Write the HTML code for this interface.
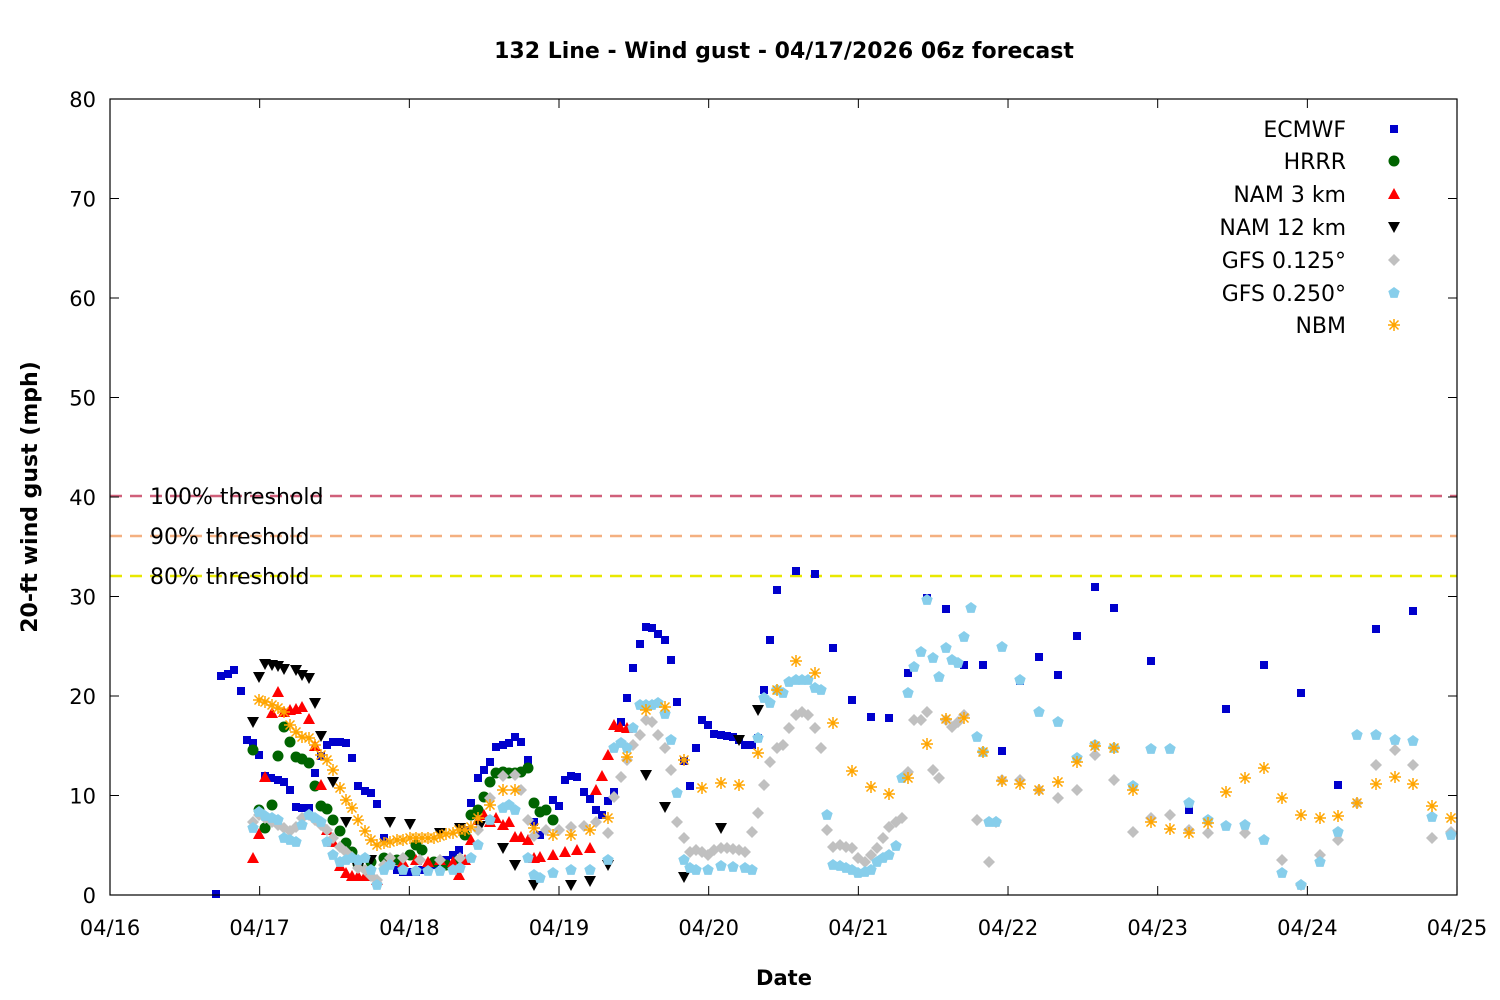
<!DOCTYPE html>
<html><head><meta charset="utf-8">
<style>
html,body{margin:0;padding:0;background:#fff;}
svg{display:block;font-family:"DejaVu Sans","Liberation Sans",sans-serif;}
</style></head>
<body>
<svg id="c" width="1500" height="1000" xmlns="http://www.w3.org/2000/svg">
<rect width="1500" height="1000" fill="#fff"/>
<text x="784" y="58" text-anchor="middle" font-size="22" font-weight="bold">132 Line - Wind gust - 04/17/2026 06z forecast</text>
<g id="thr">
<line x1="110" y1="496" x2="1457" y2="496" stroke="#d0607a" stroke-width="2.5" stroke-dasharray="12,8"/>
<line x1="110" y1="536" x2="1457" y2="536" stroke="#f4b080" stroke-width="2.5" stroke-dasharray="12,8"/>
<line x1="110" y1="576" x2="1457" y2="576" stroke="#e8e800" stroke-width="2.5" stroke-dasharray="12,8"/>
</g>
<g font-size="22">
<text x="150" y="504">100% threshold</text>
<text x="150" y="544">90% threshold</text>
<text x="150" y="584">80% threshold</text>
</g>
<g id="pts"></g>
<rect x="110" y="99" width="1347" height="796" fill="none" stroke="#000" stroke-width="1.2"/>
<g id="axes" font-size="21"></g>
<text transform="translate(37,497) rotate(-90)" text-anchor="middle" font-size="22" font-weight="bold">20-ft wind gust (mph)</text>
<text x="784" y="985" text-anchor="middle" font-size="21" font-weight="bold">Date</text>
<g font-size="22" text-anchor="end">
<text x="1346" y="137">ECMWF</text>
<text x="1346" y="169">HRRR</text>
<text x="1346" y="202">NAM 3 km</text>
<text x="1346" y="235">NAM 12 km</text>
<text x="1346" y="268">GFS 0.125°</text>
<text x="1346" y="301">GFS 0.250°</text>
<text x="1346" y="333">NBM</text>
</g>
<g id="leg"></g>
</svg>
<script>
var NS="http://www.w3.org/2000/svg";
function el(t,a,p){var e=document.createElementNS(NS,t);for(var k in a)e.setAttribute(k,a[k]);(p||document.getElementById('pts')).appendChild(e);return e;}
var ax=document.getElementById('axes');
for(var i=0;i<=8;i++){var y=895-i*99.5;
 el('line',{x1:110,y1:y,x2:119,y2:y,stroke:'#000'},ax);el('line',{x1:1448,y1:y,x2:1457,y2:y,stroke:'#000'},ax);
 var t=el('text',{x:96,y:y+8,'text-anchor':'end'},ax);t.textContent=i*10;}
for(var i=0;i<=9;i++){var x=110+i*149.67;
 el('line',{x1:x,y1:895,x2:x,y2:886,stroke:'#000'},ax);el('line',{x1:x,y1:99,x2:x,y2:108,stroke:'#000'},ax);
 var t=el('text',{x:x,y:935,'text-anchor':'middle'},ax);t.textContent='04/'+(16+i);}
function mk(type,x,y,p){
 switch(type){
 case 'sq':el('rect',{x:x-4,y:y-4,width:8,height:8,fill:'#0000cc'},p);break;
 case 'ci':el('circle',{cx:x,cy:y,r:5.5,fill:'#006400'},p);break;
 case 'tu':el('polygon',{points:(x-6)+','+(y+5)+' '+(x+6)+','+(y+5)+' '+x+','+(y-6),fill:'#ff0000'},p);break;
 case 'td':el('polygon',{points:(x-6)+','+(y-5)+' '+(x+6)+','+(y-5)+' '+x+','+(y+6),fill:'#000'},p);break;
 case 'di':el('polygon',{points:x+','+(y-6)+' '+(x+6)+','+y+' '+x+','+(y+6)+' '+(x-6)+','+y,fill:'#c0c0c0'},p);break;
 case 'pe':var s='';for(var k=0;k<5;k++){var a=-Math.PI/2+k*2*Math.PI/5;s+=(x+6*Math.cos(a))+','+(y+6*Math.sin(a))+' ';}el('polygon',{points:s,fill:'#87ceeb'},p);break;
 case 'as':var d='M'+(x-6)+' '+y+'H'+(x+6)+'M'+x+' '+(y-6)+'V'+(y+6)+'M'+(x-4.5)+' '+(y-4.5)+'L'+(x+4.5)+' '+(y+4.5)+'M'+(x-4.5)+' '+(y+4.5)+'L'+(x+4.5)+' '+(y-4.5);el('path',{d:d,stroke:'#ffa500','stroke-width':1.5,fill:'none'},p);break;
 }}
function S(type,str){var a=str.trim().split(/\s*;\s*/);a.forEach(function(q){if(!q)return;var v=q.split(',');mk(type,+v[0],+v[1]);});}
S('sq',"216,894;221,676;228,674;234,670;241,691;247,740;253,743;259,755;265,776;271,778;278,780;284,782;290,790;296,807;302,808;309,808;315,773;321,756;327,745;333,742;340,742;346,743;352,758;358,786;365,791;371,793;377,804;384,838;390,862;397,870;403,872;410,872;416,872;422,870;428,868;434,865;440,862;446,860;453,855;459,850;465,830;471,803;478,778;484,770;490,762;496,747;503,745;509,743;515,737;521,742;528,760;534,822;540,835;546,810;553,800;559,806;565,780;571,776;577,777;584,792;590,799;596,810;602,815;608,801;614,792;621,722;627,698;633,668;640,644;646,627;652,628;658,634;665,640;671,660;677,702;684,761;690,786;696,748;702,720;708,725;714,734;721,735;727,736;733,737;739,740;745,745;752,745;758,738;764,690;770,640;777,590;796,571;815,574;833,648;852,700;871,717;889,718;908,673;927,598;946,609;964,665;983,665;1002,751;1020,681;1039,657;1058,675;1077,636;1095,587;1114,608;1151,661;1189,810;1226,709;1264,665;1301,693;1338,785;1376,629;1413,611");
S('ci',"253,750;259,810;265,828;272,805;278,756;284,727;290,742;296,757;302,759;309,763;315,786;321,806;327,809;333,820;340,831;346,843;352,852;358,864;371,862;384,858;397,860;410,855;416,845;422,850;434,862;446,865;459,860;465,835;471,815;478,810;484,797;490,782;496,773;503,772;509,773;515,773;521,772;528,768;534,803;540,812;546,810;553,820");
S('tu',"253,858;259,834;265,777;272,713;278,692;284,712;290,710;296,709;302,707;309,719;315,746;321,785;327,830;333,842;340,866;346,873;352,876;358,876;365,876;371,874;377,880;390,860;403,862;416,860;428,862;440,860;453,862;459,875;465,860;471,840;478,820;484,815;490,822;496,818;503,825;509,822;515,837;521,837;528,840;534,858;540,857;553,855;565,852;577,850;590,848;596,790;602,776;608,755;614,725;620,727;627,728");
S('td',"253,722;259,677;265,664;272,665;278,666;284,669;296,670;302,675;309,678;315,703;321,736;333,782;346,822;358,868;371,860;390,822;410,824;440,833;460,828;480,826;503,848;515,865;534,885;571,885;590,881;608,865;646,775;665,807;684,877;721,828;739,740;758,710");
S('di',"253,822;259,815;265,818;272,822;278,825;284,828;290,831;296,827;302,818;309,815;315,820;321,825;327,830;333,838;340,847;346,852;352,857;358,868;365,870;371,876;377,880;384,865;390,858;403,858;420,860;440,860;460,858;478,830;490,798;503,776;515,775;521,790;528,820;534,836;546,830;559,830;571,827;584,826;596,822;608,833;614,797;621,777;627,760;633,745;640,735;646,720;652,722;658,735;665,748;671,770;677,822;684,838;690,852;696,850;702,852;708,855;714,850;721,848;727,848;733,849;739,850;745,852;752,832;758,813;764,785;770,762;777,748;783,745;789,728;796,715;802,712;808,715;815,728;821,748;827,830;833,847;840,845;846,847;852,848;858,858;865,862;871,855;877,848;883,838;889,827;896,822;902,818;908,772;914,720;921,720;927,712;933,770;939,778;946,720;952,727;958,722;964,715;977,820;989,862;996,822;1002,780;1020,780;1039,790;1058,798;1077,790;1095,755;1114,780;1133,832;1151,818;1170,815;1189,830;1208,833;1245,833;1282,860;1301,885;1320,855;1338,840;1357,803;1376,765;1395,750;1413,765;1432,838;1451,832");
S('pe',"253,828;259,812;265,816;272,818;278,820;284,838;290,840;296,842;302,825;309,815;315,818;321,822;327,842;333,855;340,862;346,860;352,858;358,860;365,858;371,870;377,885;384,870;390,865;403,870;416,871;428,871;440,871;453,870;460,868;471,858;478,845;490,820;503,808;509,805;515,810;528,858;534,875;540,878;553,873;571,870;590,870;608,860;614,748;621,743;627,748;633,728;640,705;646,705;652,705;658,703;665,714;671,740;677,793;684,860;690,868;696,870;708,870;721,866;733,867;745,868;752,870;758,738;764,698;770,703;777,690;783,693;789,682;796,680;802,680;808,680;815,688;821,690;827,815;833,865;840,866;846,868;852,870;858,873;865,872;871,870;877,862;883,858;889,855;896,846;902,778;908,693;914,667;921,652;927,600;933,658;939,677;946,648;952,660;958,663;964,637;971,608;977,737;983,752;989,822;996,822;1002,647;1020,680;1039,712;1058,722;1077,758;1095,745;1114,748;1133,786;1151,749;1170,749;1189,803;1208,820;1226,826;1245,825;1264,840;1282,873;1301,885;1320,862;1338,832;1357,735;1376,735;1395,740;1413,741;1432,817;1451,835");
S('as',"259,700;265,702;272,705;278,708;284,712;290,725;296,732;302,737;309,738;315,745;321,755;327,760;333,770;340,788;346,800;352,808;358,820;365,831;371,840;377,845;384,843;390,842;397,840;403,840;410,838;416,838;422,838;428,838;434,838;440,836;446,834;453,833;459,830;465,830;471,827;478,818;490,805;503,790;515,790;534,828;553,835;571,835;590,830;608,818;627,757;646,710;665,707;684,760;702,788;721,783;739,785;758,753;777,690;796,661;815,673;833,723;852,771;871,787;889,794;908,778;927,744;946,719;964,718;983,752;1002,781;1020,784;1039,790;1058,782;1077,762;1095,746;1114,748;1133,790;1151,822;1170,829;1189,833;1208,823;1226,792;1245,778;1264,768;1282,798;1301,815;1320,818;1338,816;1357,803;1376,784;1395,777;1413,784;1432,806;1451,818");
var lg=document.getElementById('leg');
[['sq',129],['ci',161],['tu',194],['td',227],['di',260],['pe',293],['as',325]].forEach(function(a){mk(a[0],1394,a[1],lg);});
</script>
</body></html>
